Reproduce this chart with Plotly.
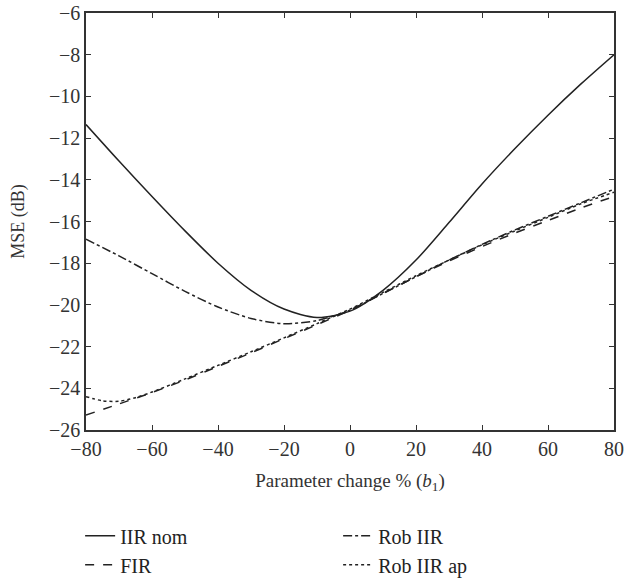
import plotly.graph_objects as go

x_vals = [-80, -70, -60, -50, -40, -30, -20, -10, 0, 10, 20, 30, 40, 50, 60, 70, 80]

iir_nom = [-11.35, -13.1, -14.8, -16.45, -18.0, -19.3, -20.2, -20.6, -20.3,
           -19.3, -17.85, -16.05, -14.2, -12.5, -10.9, -9.4, -8.0]
rob_iir = [-16.85, -17.65, -18.5, -19.35, -20.1, -20.65, -20.9, -20.75, -20.25,
           -19.45, -18.65, -17.85, -17.1, -16.4, -15.75, -15.1, -14.45]
fir = [-25.28, -24.75, -24.2, -23.6, -22.95, -22.3, -21.62, -20.95, -20.25,
       -19.45, -18.65, -17.9, -17.2, -16.55, -15.95, -15.35, -14.8]

x_ap = [-80, -75, -70, -65, -60, -50, -40, -30, -20, -10, 0, 10, 20, 30, 40, 50, 60, 70, 80]
rob_iir_ap = [-24.4, -24.6, -24.62, -24.45, -24.18, -23.55, -22.9, -22.25, -21.58, -20.9, -20.2,
              -19.4, -18.6, -17.85, -17.12, -16.45, -15.8, -15.15, -14.6]

x_ticks = [-80, -60, -40, -20, 0, 20, 40, 60, 80]
y_ticks = [-6, -8, -10, -12, -14, -16, -18, -20, -22, -24, -26]

LINE = "#222222"
FONT = "Liberation Serif"

fig = go.Figure()
fig.add_trace(go.Scatter(x=x_vals, y=iir_nom, mode="lines", name="IIR nom",
                         line=dict(color=LINE, width=1.5, dash="solid", shape="spline", smoothing=0.8)))
fig.add_trace(go.Scatter(x=x_vals, y=rob_iir, mode="lines", name="Rob IIR",
                         line=dict(color=LINE, width=1.5, dash="dashdot", shape="spline", smoothing=0.8)))
fig.add_trace(go.Scatter(x=x_vals, y=fir, mode="lines", name="FIR",
                         line=dict(color=LINE, width=1.5, dash="dash", shape="spline", smoothing=0.8)))
fig.add_trace(go.Scatter(x=x_ap, y=rob_iir_ap, mode="lines", name="Rob IIR ap",
                         line=dict(color=LINE, width=1.5, dash="dot", shape="spline", smoothing=0.8)))

axis_common = dict(showgrid=False, zeroline=False, showline=True, linecolor="#333333", linewidth=1.5,
                   mirror="ticks", ticks="inside", ticklen=5, tickcolor="#333333", automargin=False,
                   tickfont=dict(family=FONT, size=20, color="#333333"))

fig.update_xaxes(range=[-80, 80], tickvals=x_ticks,
                 ticktext=["\u221280", "\u221260", "\u221240", "\u221220", "0", "20", "40", "60", "80"],
                 title=dict(text="Parameter change % (<i>b</i><sub>1</sub>)",
                            font=dict(family=FONT, size=19, color="#333333")),
                 **axis_common)
fig.update_yaxes(range=[-26, -6], tickvals=y_ticks,
                 ticktext=["\u2212" + str(abs(v)) for v in y_ticks],
                 title=dict(text="MSE (dB)", font=dict(family=FONT, size=18, color="#333333"), standoff=20),
                 **axis_common)

fig.update_layout(
    width=626, height=580,
    paper_bgcolor="white", plot_bgcolor="white",
    margin=dict(l=86, r=12, t=13, b=150),
    font=dict(family=FONT, color="#222222"),
    legend=dict(orientation="h", xref="container", yref="container", x=0.128, y=0.110,
                xanchor="left", yanchor="top",
                entrywidth=213, entrywidthmode="pixels", itemwidth=30,
                font=dict(family=FONT, size=20, color="#222222"),
                tracegroupgap=0, bgcolor="rgba(0,0,0,0)"),
)

fig.write_html("out.html", config={"displayModeBar": False},
               post_script="document.body.style.margin='0';document.body.style.overflow='hidden';")
